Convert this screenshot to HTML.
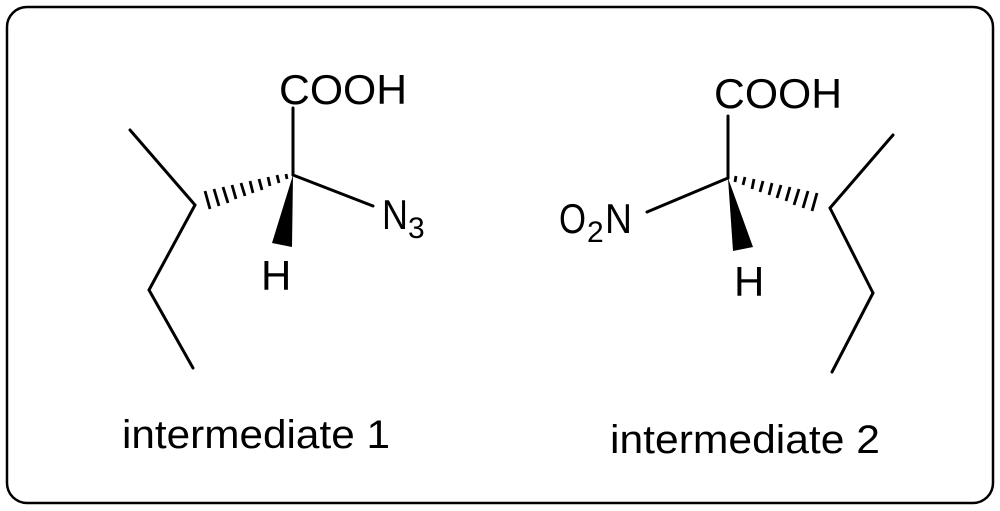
<!DOCTYPE html>
<html><head><meta charset="utf-8"><style>html,body{margin:0;padding:0;background:#fff}svg{display:block}</style></head>
<body>
<svg width="1000" height="511" viewBox="0 0 1000 511" xmlns="http://www.w3.org/2000/svg" font-family="Liberation Sans, Arial, sans-serif">
<rect x="7" y="7" width="986" height="496" rx="20" ry="20" fill="#fff" stroke="#000" stroke-width="2.5"/>
<g stroke="#000" stroke-width="3" fill="none" stroke-linecap="round">
<line x1="293" y1="175" x2="293" y2="108"/>
<line x1="293" y1="175" x2="373" y2="206"/>
<line x1="130" y1="130" x2="195" y2="205"/>
<line x1="195" y1="205" x2="149" y2="290"/>
<line x1="149" y1="290" x2="193" y2="368"/>
<line x1="728" y1="178" x2="728" y2="116"/>
<line x1="728" y1="178" x2="647" y2="212"/>
<line x1="830" y1="208" x2="893" y2="135"/>
<line x1="830" y1="208" x2="873" y2="293"/>
<line x1="873" y1="293" x2="832" y2="372"/>
</g>
<polygon points="293,175 272,243 292,247" fill="#000"/>
<polygon points="728,178 733,251 753,247" fill="#000"/>
<g stroke="#000" stroke-width="2.8">
<line x1="286" y1="174" x2="287" y2="179"/>
<line x1="277" y1="175" x2="279" y2="183"/>
<line x1="268" y1="177" x2="270" y2="186"/>
<line x1="259" y1="179" x2="262" y2="190"/>
<line x1="250" y1="181" x2="253" y2="193"/>
<line x1="241" y1="183" x2="245" y2="196"/>
<line x1="232" y1="185" x2="236" y2="199"/>
<line x1="223" y1="187" x2="228" y2="203"/>
<line x1="214" y1="189" x2="219" y2="206"/>
<line x1="205" y1="191" x2="210" y2="209"/>
<line x1="736" y1="176" x2="735" y2="182"/>
<line x1="745" y1="177" x2="743" y2="185"/>
<line x1="754" y1="179" x2="752" y2="189"/>
<line x1="763" y1="181" x2="760" y2="192"/>
<line x1="772" y1="183" x2="769" y2="195"/>
<line x1="781" y1="185" x2="777" y2="198"/>
<line x1="790" y1="187" x2="786" y2="201"/>
<line x1="799" y1="189" x2="794" y2="205"/>
<line x1="808" y1="191" x2="803" y2="208"/>
<line x1="817" y1="193" x2="812" y2="211"/>
</g>
<g fill="#000" font-size="42">
<text x="279" y="104" textLength="128" lengthAdjust="spacingAndGlyphs">COOH</text>
<text x="382" y="229" textLength="26" lengthAdjust="spacingAndGlyphs">N</text>
<text x="408" y="238" font-size="30">3</text>
<text x="261" y="290">H</text>
<text x="714" y="108" textLength="128" lengthAdjust="spacingAndGlyphs">COOH</text>
<text x="559" y="233" textLength="27" lengthAdjust="spacingAndGlyphs">O</text>
<text x="587" y="242" font-size="30">2</text>
<text x="605" y="233" textLength="27" lengthAdjust="spacingAndGlyphs">N</text>
<text x="734" y="296">H</text>
<text x="122" y="448" font-size="40" textLength="268" lengthAdjust="spacingAndGlyphs">intermediate 1</text>
<text x="610" y="453" font-size="40" textLength="270" lengthAdjust="spacingAndGlyphs">intermediate 2</text>
</g>
</svg>
</body></html>
